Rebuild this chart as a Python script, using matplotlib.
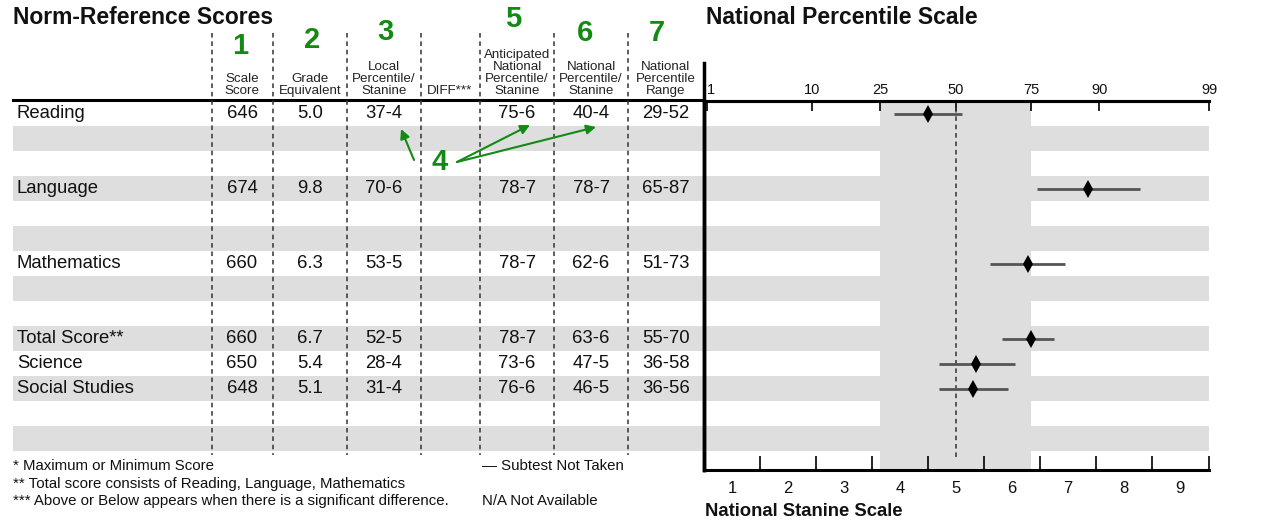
import matplotlib.pyplot as plt
import numpy as np
from statistics import NormalDist
from matplotlib.patches import Rectangle

plt.rcParams['font.family'] = ['Liberation Sans', 'DejaVu Sans']

# ---- table data ----
subjects = ['Reading', 'Language', 'Mathematics', 'Total Score**', 'Science', 'Social Studies']
scale_score = ['646', '674', '660', '660', '650', '648']
grade_eq = ['5.0', '9.8', '6.3', '6.7', '5.4', '5.1']
local_pr = ['37-4', '70-6', '53-5', '52-5', '28-4', '31-4']
diff = ['', '', '', '', '', '']
antic_pr = ['75-6', '78-7', '78-7', '78-7', '73-6', '76-6']
nat_pr = ['40-4', '78-7', '62-6', '63-6', '47-5', '46-5']
nat_range = ['29-52', '65-87', '51-73', '55-70', '36-58', '36-56']

col_heads = ['Scale\nScore', 'Grade\nEquivalent', 'Local\nPercentile/\nStanine', 'DIFF***',
             'Anticipated\nNational\nPercentile/\nStanine', 'National\nPercentile/\nStanine',
             'National\nPercentile\nRange']
col_nums = ['1', '2', '3', '', '5', '6', '7']

# ---- graph data (percentiles as drawn on the scale) ----
plot_pr = [40, 88, 74, 75, 57, 56]
plot_lo = [29, 76.5, 62, 66, 44, 44]
plot_hi = [52, 95, 83.5, 81, 70, 68]

pr_ticks = [1, 10, 25, 50, 75, 90, 99]
stanines = [1, 2, 3, 4, 5, 6, 7, 8, 9]

# ---- layout ----
row_slot = [0, 3, 6, 9, 10, 11]
n_rows = 14
row_top = 101
row_h = 25
col_lines = [212, 273, 347, 421, 480, 554, 628]
col_x = [242, 310, 384, 450, 517, 591, 666]
num_xy = [(240, 46), (312, 40), (385, 32), None, (513, 19), (585, 33), (657, 33)]
gray = '#dedede'
green = '#138a13'
ink = '#111111'

fig = plt.figure(figsize=(12.86, 5.21), dpi=100)
ax = fig.add_axes([0, 0, 1, 1])
ax.set_xlim(0, 1286)
ax.set_ylim(521, 0)
ax.axis('off')

# stripes in the table
for i in range(1, n_rows, 2):
    ax.add_patch(Rectangle((13, row_top + i * row_h), 704 - 13, row_h, color=gray, lw=0, zorder=0))

# header rule and dashed column lines
ax.plot([13, 704], [100, 100], color='black', lw=2.2)
for x in col_lines:
    ax.plot([x, x], [33, 455], color='#333333', lw=1.1, ls=(0, (3, 2.5)))

ax.text(13, 18, 'Norm-Reference Scores', fontsize=16.5, fontweight='bold', va='center', color=ink)
ax.text(706, 18, 'National Percentile Scale', fontsize=16.5, fontweight='bold', va='center', color=ink)
ax.text(705, 512, 'National Stanine Scale', fontsize=13.3, fontweight='bold', va='center', color=ink)

for x, h in zip(col_x, col_heads):
    ax.text(x, 97, h, fontsize=9.6, ha='center', va='bottom', linespacing=1.0, color='#222222')
for xy, n in zip(num_xy, col_nums):
    if xy:
        ax.text(xy[0], xy[1], n, fontsize=21, fontweight='bold', color=green, ha='center', va='center')

cols = [scale_score, grade_eq, local_pr, diff, antic_pr, nat_pr, nat_range]
for k, s in enumerate(subjects):
    y = row_top + row_slot[k] * row_h + row_h / 2
    ax.text(17, y, s, fontsize=13.3, va='center', color=ink)
    for x, c in zip(col_x, cols):
        ax.text(x, y, c[k], fontsize=13.3, ha='center', va='center', color=ink)

# annotation "4"
ax.text(440, 162, '4', fontsize=21, fontweight='bold', color=green, ha='center', va='center')
for tgt, src in [((401, 129), (414, 160)), ((530, 125), (457, 162)), ((596, 127), (457, 162))]:
    ax.annotate('', xy=tgt, xytext=src,
                arrowprops=dict(arrowstyle='-|>', color=green, lw=1.5, mutation_scale=14, shrinkA=0, shrinkB=0))

# footnotes
fs = 10.8
ax.text(13, 466, '* Maximum or Minimum Score', fontsize=fs, va='center', color=ink)
ax.text(13, 484, '** Total score consists of Reading, Language, Mathematics', fontsize=fs, va='center', color=ink)
ax.text(13, 501, '*** Above or Below appears when there is a significant difference.', fontsize=fs, va='center', color=ink)
ax.text(482, 466, '\u2014 Subtest Not Taken', fontsize=fs, va='center', color=ink)
ax.text(482, 501, 'N/A Not Available', fontsize=fs, va='center', color=ink)

# ---- percentile / stanine graph ----
def pz(p):
    return np.array([NormalDist().inv_cdf(v / 100) for v in np.atleast_1d(p)])

g = fig.add_axes([704 / 1286, (521 - 470) / 521, 505 / 1286, 369 / 521])
g.set_xlim(-2.25, 2.26)
g.set_ylim(n_rows + 19 / row_h, 0)
g.patch.set_alpha(0)

for i in range(1, n_rows, 2):
    g.axhspan(i, i + 1, color=gray, lw=0, zorder=0)
band = pz([25, 75])
g.axvspan(band[0], band[1], color=gray, lw=0, zorder=0)
g.axvline(0, ymin=13 / 369, ymax=1, color='#333333', lw=1.1, ls=(0, (3, 2.5)), zorder=1)

rows = np.array(row_slot) + 0.5
g.hlines(rows, pz(plot_lo), pz(plot_hi), color='#555555', lw=2, zorder=2)
g.plot(pz(plot_pr), rows, 'd', ms=9, color='black', mew=0, zorder=3)

g.spines['right'].set_visible(False)
g.spines['top'].set_linewidth(2.2)
g.spines['bottom'].set_linewidth(2.2)
g.spines['left'].set_linewidth(2.5)
g.axvline(-2.25, ymin=0, ymax=1 + 38 / 369, color='black', lw=2.5, clip_on=False)
g.set_yticks([])

# stanine ticks at bottom (linear in z, half a z unit per stanine)
bounds = [-2.25] + [(s - 5) * 0.5 + 0.25 for s in stanines[:-1]] + [2.26]
g.set_xticks(bounds, [''] * len(bounds))
g.set_xticks([(s - 5) * 0.5 for s in stanines], [str(s) for s in stanines], minor=True)
g.tick_params(axis='x', which='major', direction='in', length=10, width=1.2)
g.tick_params(axis='x', which='minor', length=0, labelsize=12, pad=8, labelcolor=ink)

top = g.secondary_xaxis('top')
top.set_xticks(np.clip(pz(pr_ticks), -2.22, 2.26), [str(p) for p in pr_ticks])
top.tick_params(direction='in', length=7, width=1.2, labelsize=10.5, pad=3, labelcolor=ink)
for lab in top.get_xticklabels()[:1]:
    lab.set_horizontalalignment('left')
top.spines['top'].set_linewidth(2.2)

fig.savefig('out.png', dpi=100)
